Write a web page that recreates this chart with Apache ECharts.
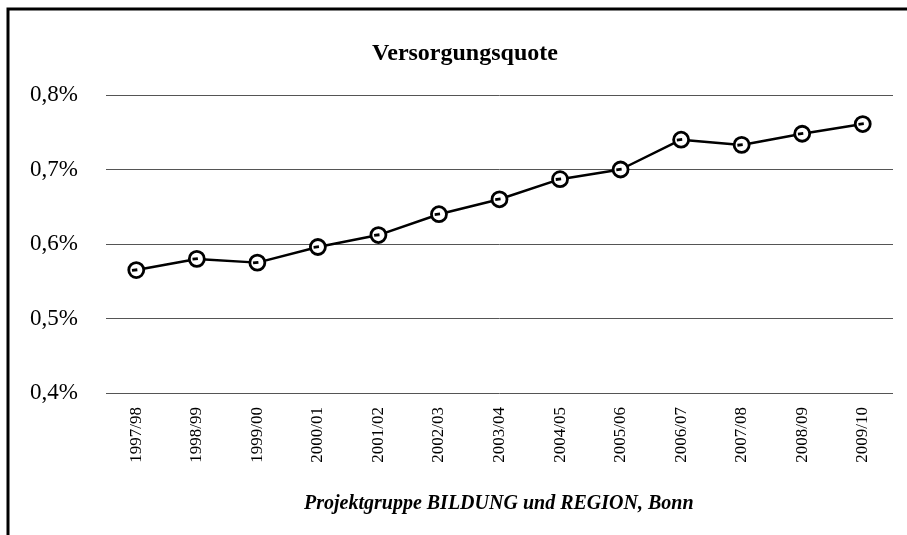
<!DOCTYPE html>
<html>
<head>
<meta charset="utf-8">
<script src="https://cdn.jsdelivr.net/npm/echarts@6/dist/echarts.min.js"></script>
<style>
html,body{margin:0;padding:0;background:#fff;}
#chart{width:907px;height:535px;}
</style>
</head>
<body>
<div id="chart"></div>
<script>
// Schuljahre
var years = ['1997/98','1998/99','1999/00','2000/01','2001/02','2002/03','2003/04',
    '2004/05','2005/06','2006/07','2007/08','2008/09','2009/10'];
// Versorgungsquote in %
var quote = [0.565, 0.580, 0.575, 0.596, 0.612, 0.640, 0.660, 0.687, 0.700, 0.740, 0.733, 0.748, 0.761];
var yTicks = [0.4, 0.5, 0.6, 0.7, 0.8];

var serif = '"Liberation Serif", "DejaVu Serif", serif';
var chart = echarts.init(document.getElementById('chart'));

var option = {
    backgroundColor: '#fff',
    animation: false,
    title: {
        text: 'Versorgungsquote',
        left: 460,
        top: 37,
        textAlign: 'center',
        textStyle: {fontFamily: serif, fontWeight: 'bold', fontSize: 24, color: '#000'}
    },
    graphic: [
        {
            type: 'rect',
            shape: {x: 8, y: 9, width: 1000, height: 600},
            style: {fill: 'none', stroke: '#000', lineWidth: 3},
            silent: true
        },
        {
            type: 'text',
            left: 304,
            top: 494,
            style: {
                text: 'Projektgruppe BILDUNG und REGION, Bonn',
                font: 'italic bold 20px ' + serif,
                fill: '#000'
            }
        }
    ],
    grid: {left: 106, right: 14, top: 95, bottom: 142},
    xAxis: {
        type: 'category',
        data: years,
        boundaryGap: true,
        axisLine: {show: false},
        axisTick: {show: false},
        axisLabel: {
            rotate: 90,
            margin: 14,
            fontFamily: serif,
            fontSize: 17,
            color: '#000'
        }
    },
    yAxis: {
        type: 'value',
        min: yTicks[0],
        max: yTicks[yTicks.length - 1],
        interval: 0.1,
        axisLine: {show: false},
        axisTick: {show: false},
        axisLabel: {
            margin: 28,
            fontFamily: serif,
            fontSize: 23,
            color: '#000',
            formatter: function (v) { return v.toFixed(1).replace('.', ',') + '%'; }
        },
        splitLine: {lineStyle: {color: '#555', width: 1}}
    },
    series: [{
        type: 'line',
        data: quote,
        symbol: 'path://M0,-7A7,7 0 1 1 0,7A7,7 0 1 1 0,-7ZM-4,0.3L1,-0.3',
        symbolSize: 15,
        showAllSymbol: true,
        lineStyle: {color: '#000', width: 2.5},
        itemStyle: {color: '#fff', borderColor: '#000', borderWidth: 2.8}
    }]
};
chart.setOption(option);
</script>
</body>
</html>
